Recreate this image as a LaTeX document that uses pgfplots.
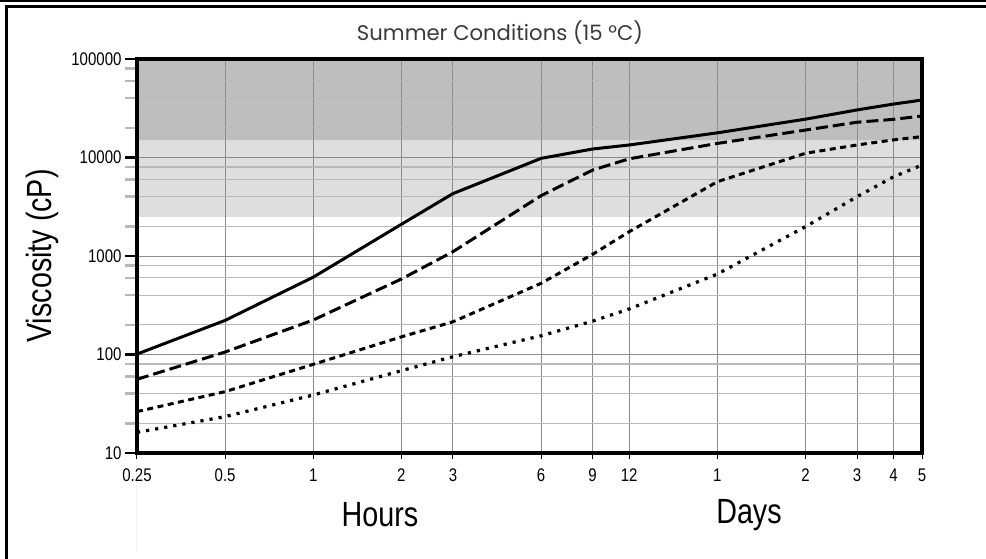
\documentclass[border=0pt]{standalone}
\usepackage{pgfplots}
\pgfplotsset{compat=1.18}
\usepackage{fontspec}
\setmainfont{Liberation Sans}[FakeStretch=0.82]
\newfontfamily\titlefont{Poppins}
\definecolor{bandA}{HTML}{BEBEBE}
\definecolor{bandB}{HTML}{DEDEDE}
\definecolor{gridmaj}{HTML}{8C8C8C}
\definecolor{gridmin}{HTML}{B9B9B9}
\definecolor{titlegray}{HTML}{3A3A3A}
\begin{document}
\begin{tikzpicture}
\begin{axis}[
  at={(0pt,0pt)}, anchor=south west,
  scale only axis, width=785pt, height=394pt,
  xmode=log, ymode=log,
  xmin=0.25, xmax=120, ymin=10, ymax=100000,
  set layers, clip=false,
  axis line style={black, line width=3pt},
  xtick pos=bottom, ytick pos=left,
  xtick={0.25,0.5,1,2,3,6,9,12,24,48,72,96,120},
  xticklabels={0.25,0.5,1,2,3,6,9,12,1,2,3,4,5},
  ytick={10,100,1000,10000,100000},
  yticklabels={10,100,1000,10000,100000},
  minor ytick={20,40,60,80,200,400,600,800,2000,4000,6000,8000,20000,40000,60000,80000},
  grid=both,
  major grid style={gridmaj, line width=1pt},
  minor grid style={gridmin, line width=1.2pt},
  tick align=outside,
  major tick length=12pt, minor tick length=12pt,
  major tick style={black},
  minor tick style={gridmin, line width=1pt},
  xtick style={line width=1pt, /pgfplots/major tick length=6pt},
  ytick style={line width=2.5pt},
  /pgf/number format/assume math mode=true,
  ticklabel style={font=\fontsize{18.3}{20}\selectfont},
]
\addplot[fill=bandB, draw=none, on layer=axis background] coordinates {(0.25,2500) (120,2500) (120,15000) (0.25,15000)} \closedcycle;
\addplot[fill=bandA, draw=none, on layer=axis background] coordinates {(0.25,15000) (120,15000) (120,100000) (0.25,100000)} \closedcycle;
% solid
\addplot[black, line width=3pt, line join=round] coordinates {
(0.25,101) (0.5,222) (1,610) (2,2100) (3,4300) (6,9800) (9,12200) (12,13400) (24,17800) (48,24500) (72,30400) (96,34900) (120,38300)};
% long dash
\addplot[black, line width=3pt, dash pattern=on 12pt off 5pt] coordinates {
(0.25,56) (0.5,106) (1,224) (2,584) (3,1106) (6,4100) (9,7460) (12,9700) (24,13900) (48,19000) (72,22800) (96,24400) (120,26400)};
% short dash
\addplot[black, line width=3pt, dash pattern=on 6pt off 4.5pt] coordinates {
(0.25,26.3) (0.5,42) (1,79.5) (2,151) (3,215) (6,528) (9,1040) (12,1765) (24,5680) (48,11040) (72,13400) (96,15100) (120,16300)};
% dotted
\addplot[black, line width=3.2pt, dash pattern=on 3.2pt off 6pt] coordinates {
(0.25,16.2) (0.5,23.4) (1,38.8) (2,68.5) (3,95) (6,155) (9,218) (12,290) (24,656) (48,1985) (72,4000) (96,6380) (120,8390)};
\end{axis}
\draw[black, line width=3.2pt] (0pt,0pt) rectangle (785pt,394pt);
\node[font=\fontsize{35}{40}\selectfont] at (243pt,-62pt) {Hours};
\node[font=\fontsize{35}{40}\selectfont] at (612pt,-62pt) {Days};
\node[font=\fontsize{35}{40}\selectfont, rotate=90] at (-95pt,197pt) {Viscosity (cP)};
\node[text=titlegray] at (363pt,420pt) {\resizebox{286pt}{!}{\titlefont Summer Conditions (15 °C)}};
\draw[line width=1.3pt] (-137pt,452pt) -- (849pt,452pt);
\draw[line width=3pt] (860pt,446.5pt) -- (-130.5pt,446.5pt) -- (-130.5pt,-115pt);
\pgfresetboundingbox
\useasboundingbox (-137pt,-105pt) rectangle (849pt,453pt);
\end{tikzpicture}
\end{document}
